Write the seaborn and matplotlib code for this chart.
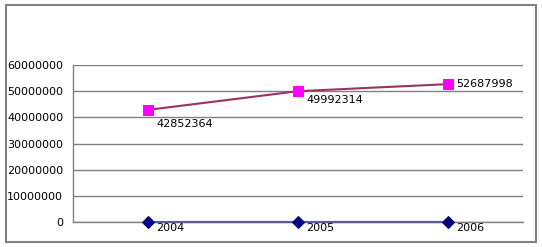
import matplotlib
matplotlib.use("Agg")
import matplotlib.pyplot as plt
import seaborn as sns
import pandas as pd
from matplotlib.patches import Rectangle

categories = ["2004", "2005", "2006"]
years = [2004, 2005, 2006]
values = [42852364, 49992314, 52687998]
y_ticks = [0, 10000000, 20000000, 30000000, 40000000, 50000000, 60000000]

sns.set_style("white")
plt.rcParams['font.family'] = ['DejaVu Sans']
plt.rcParams['text.color'] = 'black'
plt.rcParams['ytick.labelcolor'] = 'black'

W, H = 542, 247
fig = plt.figure(figsize=(W / 100, H / 100), dpi=100)
ax = fig.add_axes([73 / W, 1 - 222 / H, 450 / W, 157 / H])

df = pd.DataFrame({"cat": categories, "year": years, "value": values})
df["x"] = range(len(df))

sns.lineplot(data=df, x="x", y="year", ax=ax, color="#5c5c99", lw=1.6,
             marker="D", markersize=6.5, markerfacecolor="#000080",
             markeredgecolor="#000080", zorder=3, clip_on=False)
sns.lineplot(data=df, x="x", y="value", ax=ax, color="#993366", lw=1.5,
             marker="s", markersize=6.5, markerfacecolor="#ff00ff",
             markeredgecolor="#ff00ff", zorder=3, clip_on=False)

ax.set_xlim(-0.5, 2.5)
ax.set_ylim(0, 60000000)
ax.set_yticks(y_ticks)
ax.set_yticklabels([str(t) for t in y_ticks], fontsize=8, color="black")
ax.set_xticks([])
ax.set_xlabel("")
ax.set_ylabel("")
ax.grid(axis="y", color="#808080", lw=1)
ax.set_axisbelow(True)
for s in ["top", "right"]:
    ax.spines[s].set_visible(False)
ax.spines["left"].set_color("#808080")
ax.spines["bottom"].set_color("#808080")
ax.spines["left"].set_linewidth(1)
ax.spines["bottom"].set_linewidth(1)
ax.tick_params(axis="y", length=4, color="#808080", width=1, pad=3)

# data labels
offs_val = [(5.8, -10), (5.8, -6), (5.8, 0)]
for i, v in enumerate(values):
    ax.annotate(str(v), (i, v), xytext=offs_val[i], textcoords="offset points",
                ha="left", va="center", fontsize=8, color="black")
for i, y in enumerate(years):
    ax.annotate(str(y), (i, y), xytext=(5.8, -4.3), textcoords="offset points",
                ha="left", va="center", fontsize=8, color="black")

fig.patches.append(Rectangle((5.5 / W, 1 - 241.5 / H), 530 / W, 236 / H,
                             transform=fig.transFigure, fill=False,
                             edgecolor="#808080", lw=1.5))

fig.savefig("out.png", dpi=100)
